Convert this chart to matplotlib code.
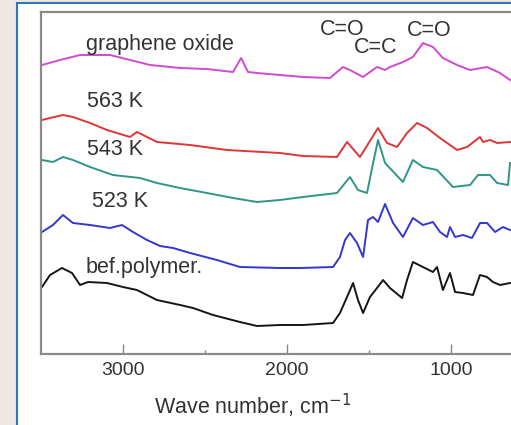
import matplotlib
matplotlib.use('Agg')
import matplotlib.pyplot as plt
from matplotlib.patches import Rectangle
import numpy as np

# wave numbers (cm^-1) and offset intensities (arb. units)
go_wn = [3494, 3384, 3262, 3079, 2957, 2835, 2652, 2488, 2329, 2280, 2238, 2183, 2043, 1902,
         1738, 1659, 1616, 1537, 1451, 1402, 1372, 1293, 1232, 1171, 1110, 1049, 963, 884,
         780, 701, 640]
go_val = [289, 294, 299, 299, 294, 289, 286, 285, 282, 296, 282, 281, 279, 277,
          276, 287, 284, 277, 287, 284, 287, 292, 297, 311, 307, 296, 289, 284,
          287, 281, 274]

k563_wn = [3494, 3445, 3366, 3305, 3201, 3098, 2957, 2915, 2878, 2793, 2591, 2366, 2043, 1902,
           1695, 1634, 1555, 1445, 1390, 1329, 1268, 1207, 1146, 1067, 963, 902, 823, 805,
           762, 719, 640]
k563_val = [234, 236, 239, 237, 231, 224, 217, 222, 219, 212, 209, 204, 201, 198,
            197, 212, 197, 226, 211, 207, 221, 231, 226, 216, 204, 207, 217, 212,
            214, 211, 212]

k543_wn = [3494, 3427, 3366, 3305, 3201, 3061, 2896, 2793, 2652, 2488, 2329, 2183, 2043, 1902,
           1695, 1616, 1567, 1512, 1475, 1445, 1402, 1293, 1232, 1171, 1085, 988, 884, 835,
           762, 719, 652, 640]
k543_val = [194, 192, 197, 194, 187, 179, 176, 171, 166, 161, 156, 152, 154, 157,
            161, 177, 164, 161, 191, 214, 191, 172, 194, 187, 184, 167, 169, 179,
            179, 171, 169, 191]

k523_wn = [3494, 3427, 3366, 3305, 3201, 3079, 3006, 2939, 2854, 2774, 2695, 2591, 2427, 2287,
           2043, 1921, 1719, 1677, 1646, 1616, 1573, 1536, 1506, 1475, 1445, 1402, 1353, 1293,
           1232, 1171, 1110, 1067, 1024, 1006, 975, 927, 872, 823, 780, 731, 683, 640]
k523_val = [122, 129, 139, 131, 129, 126, 129, 122, 114, 108, 106, 101, 94, 87,
            86, 86, 87, 97, 114, 121, 111, 97, 134, 137, 132, 150, 131, 117,
            136, 129, 132, 122, 117, 127, 117, 119, 116, 131, 131, 122, 127, 124]

bef_wn = [3494, 3445, 3372, 3311, 3262, 3213, 3098, 3000, 2915, 2793, 2652, 2573, 2451, 2287,
          2183, 2043, 1902, 1719, 1677, 1634, 1597, 1567, 1536, 1494, 1451, 1414, 1372, 1298,
          1268, 1232, 1171, 1110, 1085, 1049, 1006, 975, 927, 866, 823, 780, 744, 701, 640]
bef_val = [67, 79, 86, 81, 69, 72, 71, 67, 64, 54, 49, 46, 39, 32,
           28, 29, 29, 31, 41, 57, 71, 54, 41, 57, 66, 74, 66, 56,
           74, 92, 87, 82, 87, 64, 81, 62, 61, 59, 79, 77, 72, 69, 71]

fig = plt.figure(figsize=(5.11, 4.25), dpi=100)
fig.patch.set_facecolor('#ede8e2')
# white panel with blue frame (behind the axes)
fig.patches.append(Rectangle((17/511, -0.05), 1.1, (425-3)/425 + 0.05, transform=fig.transFigure,
                             facecolor='white', edgecolor='#2e75c0', linewidth=1.5, zorder=-10))

ax = fig.add_axes([41/511, 71/425, 1 - 41/511, (354-12)/425])
ax.patch.set_alpha(0)

ax.plot(go_wn, go_val, color='#d04ad0', lw=1.4)
ax.plot(k563_wn, k563_val, color='#e03535', lw=1.4)
ax.plot(k543_wn, k543_val, color='#2f9686', lw=1.4)
ax.plot(k523_wn, k523_val, color='#3535d0', lw=1.4)
ax.plot(bef_wn, bef_val, color='#151515', lw=1.4)

ax.set_xticks([3000, 2000, 1000])
ax.set_xticks([2500, 1500], minor=True)
ax.set_yticks([])
ax.set_xlim(3500, 634)
ax.set_ylim(0, 342)

txt = dict(family='Liberation Sans', color='#333333', fontsize=15.5)
ax.text(3226, 299, 'graphene oxide', va='bottom', **txt)
ax.text(3220, 242, '563 K', va='bottom', **txt)
ax.text(3220, 194, '543 K', va='bottom', **txt)
ax.text(3189, 142, '523 K', va='bottom', **txt)
ax.text(3226, 76, 'bef.polymer.', va='bottom', **txt)
ax.text(1665, 314, 'C=O', ha='center', va='bottom', **txt)
ax.text(1457, 296, 'C=C', ha='center', va='bottom', **txt)
ax.text(1134, 313, 'C=O', ha='center', va='bottom', **txt)

ax.tick_params(axis='x', which='major', direction='in', length=7, width=1, color='#888888',
               labelsize=14, labelcolor='#333333', pad=6)
ax.tick_params(axis='x', which='minor', direction='in', length=3, width=1, color='#888888')
for lab in ax.get_xticklabels():
    lab.set_family('Liberation Sans')

for s in ['left', 'top', 'bottom']:
    ax.spines[s].set_color('#8a8a8a')
    ax.spines[s].set_linewidth(1.6)
ax.spines['right'].set_visible(False)

fig.text(253/511, (425-406)/425, 'Wave number, cm$^{-1}$', family='Liberation Sans',
         fontsize=15.5, color='#333333', ha='center', va='center')

fig.savefig('out.png', dpi=100)
